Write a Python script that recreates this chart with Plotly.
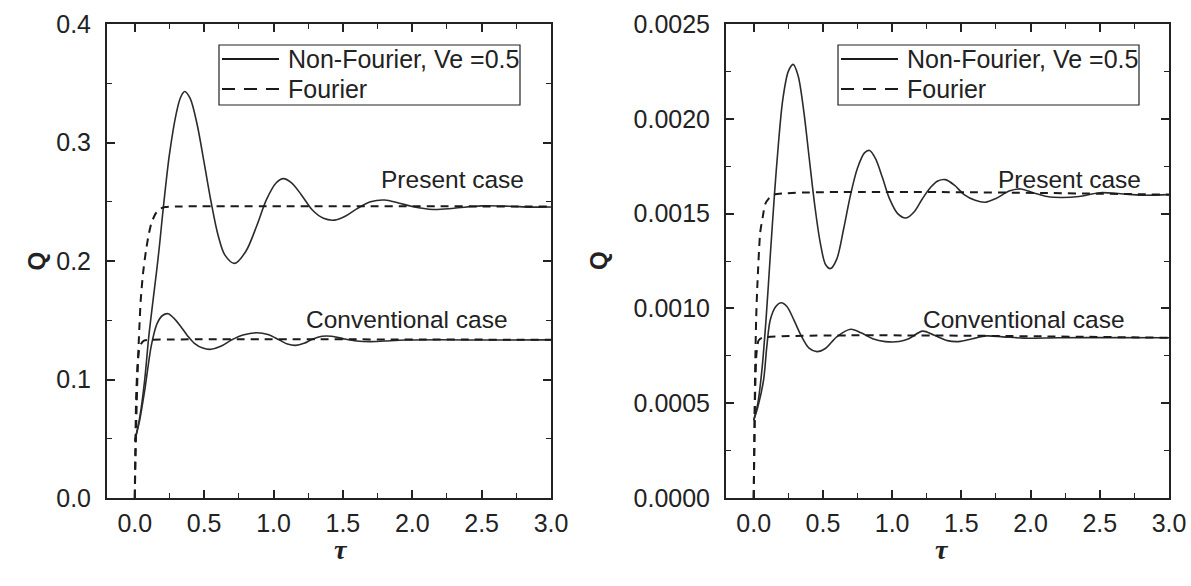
import plotly.graph_objects as go

# ---------------- data: left panel (Q up to 0.4) ----------------
tau_nf_present_a = [0, 0.036, 0.072, 0.10, 0.132, 0.156, 0.18, 0.204, 0.25, 0.30, 0.33, 0.36, 0.40, 0.45,
                    0.50, 0.55, 0.60, 0.65, 0.72, 0.80, 0.88, 0.95, 1.02, 1.07, 1.13, 1.20, 1.28, 1.36,
                    1.44, 1.52, 1.60, 1.70, 1.80, 1.90, 2.00, 2.15, 2.30, 2.50, 2.70, 2.85, 3.0]
q_nf_present_a = [0.048, 0.068, 0.100, 0.135, 0.167, 0.190, 0.215, 0.243, 0.290, 0.325, 0.338, 0.343, 0.337, 0.315,
                  0.283, 0.250, 0.222, 0.205, 0.198, 0.208, 0.230, 0.252, 0.266, 0.2695, 0.266, 0.256, 0.243, 0.236,
                  0.2345, 0.238, 0.244, 0.250, 0.2515, 0.249, 0.246, 0.2435, 0.2445, 0.2465, 0.2462, 0.2455, 0.2456]

tau_nf_conv_a = [0, 0.036, 0.072, 0.12, 0.16, 0.20, 0.24, 0.28, 0.33, 0.38, 0.43, 0.49, 0.55, 0.62, 0.70,
                 0.78, 0.88, 0.96, 1.04, 1.10, 1.16, 1.22, 1.28, 1.35, 1.42, 1.50, 1.60, 1.70, 1.80, 1.95,
                 2.20, 2.50, 3.0]
q_nf_conv_a = [0.048, 0.066, 0.091, 0.129, 0.147, 0.154, 0.1555, 0.152, 0.145, 0.137, 0.1305, 0.1265, 0.1255,
               0.128, 0.1335, 0.1375, 0.1395, 0.138, 0.1335, 0.130, 0.1288, 0.1305, 0.134, 0.1365, 0.1365,
               0.1345, 0.1325, 0.132, 0.1325, 0.1333, 0.1336, 0.1333, 0.1334]

tau_f_present_a = [0, 0.005, 0.012, 0.02, 0.03, 0.043, 0.06, 0.08, 0.10, 0.12, 0.15, 0.18, 0.22, 0.30, 3.0]
q_f_present_a = [0, 0.03, 0.07, 0.105, 0.135, 0.167, 0.19, 0.208, 0.222, 0.232, 0.240, 0.244, 0.2455, 0.246, 0.246]

tau_f_conv_a = [0, 0.004, 0.01, 0.02, 0.03, 0.045, 0.07, 0.10, 3.0]
q_f_conv_a = [0, 0.04, 0.085, 0.112, 0.124, 0.130, 0.133, 0.1335, 0.1335]

# ---------------- data: right panel (Q up to 0.0025) ----------------
tau_nf_present_b = [0, 0.03, 0.06, 0.09, 0.12, 0.15, 0.18, 0.21, 0.25, 0.285, 0.32, 0.36, 0.40, 0.44, 0.48,
                    0.52, 0.555, 0.60, 0.65, 0.70, 0.75, 0.80, 0.837, 0.88, 0.93, 0.98, 1.04, 1.10, 1.16,
                    1.22, 1.28, 1.33, 1.384, 1.45, 1.52, 1.60, 1.674, 1.75, 1.85, 1.93, 2.02, 2.12, 2.22,
                    2.35, 2.50, 2.65, 2.80, 3.0]
q_nf_present_b = [0.00041, 0.00050, 0.00068, 0.00095, 0.00128, 0.00160, 0.00188, 0.00210, 0.00225, 0.002287,
                  0.00223, 0.00205, 0.00180, 0.00155, 0.00135, 0.00123, 0.00121, 0.00126, 0.00142, 0.00160,
                  0.00174, 0.00182, 0.001833, 0.00179, 0.00169, 0.00158, 0.00150, 0.001477, 0.00151, 0.00158,
                  0.00164, 0.001672, 0.001679, 0.00165, 0.00160, 0.00157, 0.00156, 0.00158, 0.00162, 0.00163,
                  0.00161, 0.00159, 0.001585, 0.00159, 0.00161, 0.001605, 0.001597, 0.00160]

tau_nf_conv_b = [0, 0.03, 0.071, 0.095, 0.12, 0.16, 0.20, 0.24, 0.29, 0.34, 0.40, 0.456, 0.52, 0.60, 0.70,
                 0.78, 0.86, 0.95, 1.05, 1.12, 1.22, 1.30, 1.40, 1.48, 1.58, 1.68, 1.80, 1.95, 2.20, 2.50, 3.0]
q_nf_conv_b = [0.00041, 0.00048, 0.00062, 0.00080, 0.00094, 0.00101, 0.00103, 0.00101, 0.00094, 0.00086,
               0.00079, 0.000772, 0.00079, 0.00085, 0.00089, 0.00087, 0.00084, 0.000825, 0.000825, 0.00084,
               0.00088, 0.00086, 0.00083, 0.000825, 0.00084, 0.000855, 0.00085, 0.000843, 0.000845,
               0.000846, 0.000845]

tau_f_present_b = [0, 0.005, 0.01, 0.018, 0.027, 0.047, 0.065, 0.083, 0.11, 0.143, 3.0]
q_f_present_b = [0, 0.0003, 0.00065, 0.00095, 0.00113, 0.0014, 0.00148, 0.00155, 0.00158, 0.0016, 0.0016]

tau_f_conv_b = [0, 0.005, 0.012, 0.02, 0.035, 0.06, 3.0]
q_f_conv_b = [0, 0.0003, 0.0006, 0.00076, 0.00083, 0.000845, 0.000845]

x_ticks = [0, 0.5, 1.0, 1.5, 2.0, 2.5, 3.0]
legend_nf = "Non-Fourier, Ve =0.5"
legend_f = "Fourier"
label_present = "Present case"
label_conv = "Conventional case"

# ---------------- page geometry (pixels of a 1191 x 586 page) ----------------
W, H = 1191, 586
FONT = "Liberation Sans"
INK = "#222222"


def px(x):
    return x / W


def py(y):
    return 1 - y / H


solid = dict(color="#2b2b2b", width=1.6, shape="spline", smoothing=0.9)
dashed = dict(color="#1a1a1a", width=2.0, dash="8px,6px", shape="spline", smoothing=0.6)

fig = go.Figure()

panels = [
    ("x", "y", (tau_nf_present_a, q_nf_present_a), (tau_nf_conv_a, q_nf_conv_a),
     (tau_f_present_a, q_f_present_a), (tau_f_conv_a, q_f_conv_a)),
    ("x2", "y2", (tau_nf_present_b, q_nf_present_b), (tau_nf_conv_b, q_nf_conv_b),
     (tau_f_present_b, q_f_present_b), (tau_f_conv_b, q_f_conv_b)),
]

for xa, ya, nf_p, nf_c, f_p, f_c in panels:
    for (t, q), style, name in ((nf_p, solid, legend_nf), (f_p, dashed, legend_f),
                                (nf_c, solid, legend_nf), (f_c, dashed, legend_f)):
        fig.add_trace(go.Scatter(x=t, y=q, mode="lines", line=style, name=name,
                                 xaxis=xa, yaxis=ya, showlegend=False))

tickfont = dict(family=FONT, size=25, color=INK)


def xaxis_cfg(domain, anchor):
    return dict(domain=domain, anchor=anchor, range=[-0.2, 3.0], tickvals=x_ticks, tickformat=".1f",
                ticks="inside", ticklen=8, tickwidth=1.6, tickcolor=INK,
                minor=dict(ticks="inside", ticklen=5, tickwidth=1.4, tickcolor=INK, dtick=0.25, tick0=0),
                showline=True, linewidth=2, linecolor=INK, mirror="allticks",
                showgrid=False, zeroline=False, tickfont=tickfont, ticklabelstandoff=2,
                automargin=False, fixedrange=True)


def yaxis_cfg(domain, top, step, fmt, anchor):
    return dict(domain=domain, range=[0, top], dtick=step, tick0=0, tickformat=fmt, anchor=anchor,
                ticks="inside", ticklen=8, tickwidth=1.6, tickcolor=INK,
                minor=dict(ticks="inside", ticklen=5, tickwidth=1.4, tickcolor=INK, dtick=step / 2, tick0=0),
                showline=True, linewidth=2, linecolor=INK, mirror="allticks",
                showgrid=False, zeroline=False, tickfont=tickfont, ticklabelstandoff=9,
                automargin=False, fixedrange=True)


ydom = [py(498), py(24)]
fig.update_layout(
    width=W, height=H,
    margin=dict(l=0, r=0, t=0, b=0, autoexpand=False),
    paper_bgcolor="white", plot_bgcolor="white",
    xaxis=xaxis_cfg([px(107), px(551)], "y"),
    yaxis=yaxis_cfg(ydom, 0.4, 0.1, ".1f", "x"),
    xaxis2=xaxis_cfg([px(726), px(1169)], "y2"),
    yaxis2=yaxis_cfg(ydom, 0.0025, 0.0005, ".4f", "x2"),
    showlegend=False,
)

# key boxes (one per panel): frame, line samples and entry texts
shapes = []
annotations = []
key_font = dict(family=FONT, size=25, color=INK)
for bx in (219, 838):
    shapes.append(dict(type="rect", xref="paper", yref="paper",
                       x0=px(bx), x1=px(bx + 301), y0=py(105), y1=py(45),
                       line=dict(color=INK, width=1.2), fillcolor="white", layer="above"))
    shapes.append(dict(type="line", xref="paper", yref="paper",
                       x0=px(bx + 3), x1=px(bx + 60), y0=py(59), y1=py(59),
                       line=dict(color="#1a1a1a", width=2.2), layer="above"))
    shapes.append(dict(type="line", xref="paper", yref="paper",
                       x0=px(bx + 3), x1=px(bx + 60), y0=py(89), y1=py(89),
                       line=dict(color="#1a1a1a", width=2.2, dash="13px,9px"), layer="above"))
    annotations.append(dict(text=legend_nf, x=px(bx + 67), y=py(59), xref="paper", yref="paper",
                            xanchor="left", yanchor="middle", showarrow=False, font=key_font))
    annotations.append(dict(text=legend_f, x=px(bx + 67), y=py(89), xref="paper", yref="paper",
                            xanchor="left", yanchor="middle", showarrow=False, font=key_font))

# curve labels and axis titles
label_font = dict(family=FONT, size=24.5, color=INK)
annotations += [
    dict(text=label_present, x=2.29, y=0.269, xref="x", yref="y", showarrow=False, font=label_font),
    dict(text=label_conv, x=1.96, y=0.151, xref="x", yref="y", showarrow=False, font=label_font),
    dict(text=label_present, x=2.28, y=0.00168, xref="x2", yref="y2", showarrow=False, font=label_font),
    dict(text=label_conv, x=1.95, y=0.000944, xref="x2", yref="y2", showarrow=False, font=label_font),
]
for xq, xt in ((20, 332), (598, 951)):
    annotations.append(dict(text="<b>Q</b>", x=px(xq), y=py(261), xref="paper", yref="paper",
                            showarrow=False, textangle=-90,
                            font=dict(family=FONT, size=24, color=INK)))
    annotations.append(dict(text="<b><i>τ</i></b>", x=px(xt), y=py(567), xref="paper", yref="paper",
                            showarrow=False, font=dict(family="Liberation Serif", size=28, color=INK)))
fig.update_layout(shapes=shapes, annotations=annotations)

fig.write_html("out.html")
